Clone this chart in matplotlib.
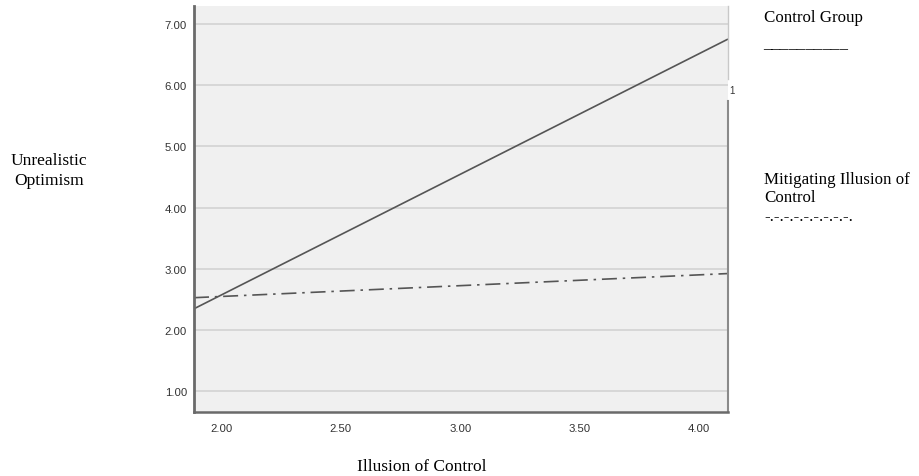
import matplotlib.pyplot as plt

# axis ranges and ticks
x_ticks = [2.0, 2.5, 3.0, 3.5, 4.0]
y_ticks = [1.0, 2.0, 3.0, 4.0, 5.0, 6.0, 7.0]
x_range = [1.887, 4.12]
y_range = [0.656, 7.295]

# fitted lines (values at both ends of the x range)
control_x = [1.887, 4.12]
control_y = [2.344, 6.754]
mitigating_x = [1.887, 4.12]
mitigating_y = [2.525, 2.92]

W, H = 919, 477
fig = plt.figure(figsize=(W / 100, H / 100), dpi=100)
fig.patch.set_facecolor('white')

# axes placed in pixels
left, right, bottom, top = 194, 728, 413, 7
ax = fig.add_axes([left / W, 1 - bottom / H, (right - left) / W, (bottom - top) / H])
ax.set_facecolor('#f0f0f0')

ax.plot(control_x, control_y, color='#555555', lw=1.2, solid_capstyle='butt')
ax.plot(mitigating_x, mitigating_y, color='#555555', lw=1.2,
        linestyle=(0, (9, 3.5, 1.5, 3.5)))

ax.set_xlim(x_range)
ax.set_ylim(y_range)
ax.set_xticks(x_ticks)
ax.set_yticks(y_ticks)
ax.set_xticklabels(['%.2f' % v for v in x_ticks])
ax.set_yticklabels(['%.2f' % v for v in y_ticks])
ax.tick_params(axis='both', length=0, labelsize=8.2, colors='#333333',
               labelfontfamily='Liberation Sans')
ax.tick_params(axis='x', pad=8)
ax.tick_params(axis='y', pad=5)
ax.grid(axis='y', color='#d2d2d2', lw=1.2)
ax.set_axisbelow(True)

ax.spines['top'].set_visible(False)
ax.spines['right'].set_visible(False)
ax.spines['left'].set_color('#6a6a6a')
ax.spines['left'].set_linewidth(2)
ax.spines['bottom'].set_color('#6a6a6a')
ax.spines['bottom'].set_linewidth(1.8)

# right border drawn in two pieces with a small gap (as in the original)
ax.plot([1, 1], [1, 1 - 73 / 406], transform=ax.transAxes, color='#c8c8c8',
        lw=1, clip_on=False)
ax.plot([1, 1], [1 - 95 / 406, 0], transform=ax.transAxes, color='#8a8a8a',
        lw=1.5, clip_on=False)
fig.text(729 / W, 1 - 91 / H, '1', fontsize=7, family='Liberation Sans',
         color='#333333', va='center', ha='left')

serif = 'Liberation Serif'
fs = 12.2
fig.text(49 / W, 1 - 171 / H, 'Unrealistic\nOptimism', ha='center', va='center',
         fontsize=12.5, family=serif, linespacing=1.4)
fig.text(422 / W, 1 - 467 / H, 'Illusion of Control', ha='center', va='center',
         fontsize=12.5, family=serif)
fig.text(764 / W, 1 - 18 / H, 'Control Group', ha='left', va='center',
         fontsize=fs, family=serif)
fig.text(763 / W, 1 - 44 / H, '__________', ha='left', va='center',
         fontsize=fs, family=serif)
fig.text(764 / W, 1 - 180 / H, 'Mitigating Illusion of', ha='left', va='center',
         fontsize=fs, family=serif)
fig.text(764 / W, 1 - 198 / H, 'Control', ha='left', va='center',
         fontsize=fs, family=serif)
fig.text(764 / W, 1 - 217 / H, '-.-.-.-.-.-.-.-.-.', ha='left', va='center',
         fontsize=fs, family=serif)

fig.savefig('out.png', dpi=100)
